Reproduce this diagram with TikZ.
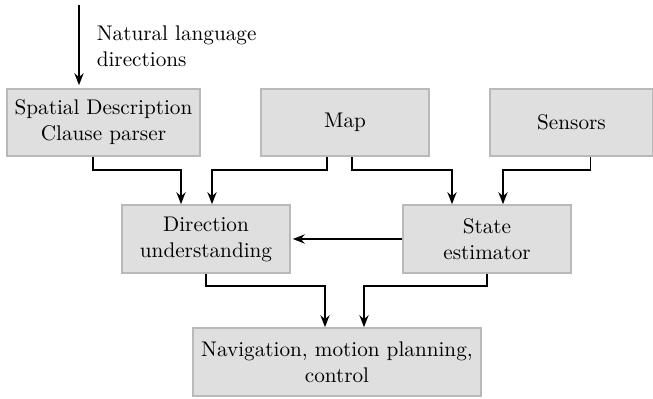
\documentclass[tikz,border=0pt]{standalone}
\usepackage{tikz}
\usetikzlibrary{arrows,arrows.meta,positioning,shapes}

\begin{document}
\begin{tikzpicture}[x=0.5pt,y=-0.5pt,
            font=\fontsize{10.6}{13}\selectfont,
            block/.style={draw=gray!55,fill=gray!25,rectangle,align=center,minimum height=33.5pt,inner sep=2pt},
            lab/.style={align=left,anchor=west,inner sep=0pt},
            every path/.style={thick,>={Stealth[length=6pt,width=4.6pt,inset=2pt]}}
          ]
          \useasboundingbox (0,0) rectangle (653,399);

          \node[block,minimum width=96.5pt] (sdc) at (103.5,122.5) {Spatial Description\\Clause parser};
          \node[block,minimum width=84pt] (map) at (345,122.5) {Map};
          \node[block,minimum width=81.5pt] (sens) at (571.5,122.5) {Sensors};

          \node[block,minimum width=84pt,minimum height=34pt] (du) at (206,239) {Direction\\understanding};
          \node[block,minimum width=84pt,minimum height=34pt] (se) at (487,239) {State\\estimator};

          \node[block,minimum width=144pt,minimum height=34pt] (nav) at (337,362) {Navigation, motion planning,\\control};

          %input
          \coordinate (in) at (79,5);
          \node[lab] (nl) at (96,46) {Natural language\\directions};
          \draw[->] (in) -- ([xshift=-12.25pt,yshift=1.5pt]sdc.north);

          %arrows
          \draw[->] ([xshift=-5.25pt]sdc.south) -- ++(0,13) -| ([xshift=-12.5pt]du.north);
          \draw[->] ([xshift=-9pt]map.south) -- ++(0,13) -| ([xshift=3pt]du.north);
          \draw[->] ([xshift=3.5pt]map.south) -- ++(0,13) -| ([xshift=-17.5pt]se.north);
          \draw[->] ([xshift=9.5pt]sens.south) -- ++(0,13) -| ([xshift=8pt]se.north);
          \draw[->] (se.west) -- ([xshift=1pt]du.east);
          \draw[->] (du.south) -- ++(0,12.5) -| ([xshift=-6pt]nav.north);
          \draw[->] (se.south) -- ++(0,12.5) -| ([xshift=13.5pt]nav.north);

      \end{tikzpicture}
\end{document}
